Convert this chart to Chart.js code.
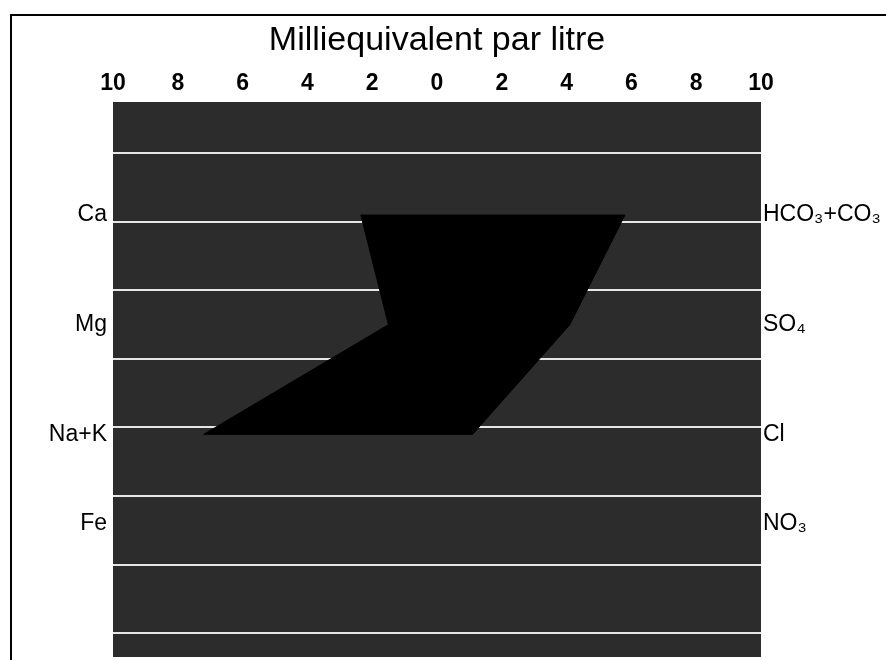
<!DOCTYPE html>
<html>
<head>
<meta charset="utf-8"/>
<script src="https://cdn.jsdelivr.net/npm/chart.js@4.4.1/dist/chart.umd.min.js"></script>
<style>
	body { margin: 0; background: #fff; }
	#wrap { position: relative; width: 886px; height: 660px; overflow: hidden; }
	#frame { position: absolute; left: 10px; top: 14px; width: 900px; height: 700px; border: 2px solid #000; pointer-events: none; }
</style>
</head>
<body>
<div id="wrap">
	<canvas id="chart" width="886" height="660"></canvas>
	<div id="frame"></div>
</div>
<script>
// Stiff diagram : cations a gauche, anions a droite (meq/l)
var cations = ['Ca', 'Mg', 'Na+K', 'Fe'];
var anions = ['HCO₃+CO₃', 'SO₄', 'Cl', 'NO₃'];
var cationVals = [2.35, 1.5, 7.2, null];
var anionVals = [5.8, 4.1, 1.1, null];
var rowPos = [1.9, 3.5, 5.1, 6.4];
var xTicks = [-10, -8, -6, -4, -2, 0, 2, 4, 6, 8, 10];
var gridRows = [1, 2, 3, 4, 5, 6, 7, 8];
var yMin = 0.25, yMax = 8.35;

// polygone : cations de haut en bas, puis anions de bas en haut
var pts = [];
for (var i = 0; i < cations.length; i++) {
	if (cationVals[i] != null) pts.push({x: -cationVals[i], y: rowPos[i]});
}
for (var j = anions.length - 1; j >= 0; j--) {
	if (anionVals[j] != null) pts.push({x: anionVals[j], y: rowPos[j]});
}
pts.push(pts[0]);

function setTicks(list) {
	return function(scale) {
		scale.ticks = list.map(function(v) { return {value: v}; });
	};
}

function fixWidth(w) {
	return function(s) {
		s.width = w;
		s.paddingTop = 0;
		s.paddingBottom = 0;
	};
}

var plotBg = {
	id: 'plotBg',
	beforeDraw: function(c) {
		var a = c.chartArea, ctx = c.ctx;
		ctx.save();
		ctx.fillStyle = '#2c2c2c';
		ctx.fillRect(a.left, a.top, a.right - a.left, a.bottom - a.top);
		ctx.restore();
	}
};

var ctx = document.getElementById('chart').getContext('2d');
new Chart(ctx, {
	type: 'scatter',
	data: {
		datasets: [{
			data: pts,
			showLine: true,
			fill: 'shape',
			backgroundColor: '#000',
			borderColor: '#000',
			borderWidth: 1,
			pointRadius: 0,
			xAxisID: 'x',
			yAxisID: 'yl'
		}]
	},
	options: {
		responsive: false,
		animation: false,
		layout: { padding: { top: 0, left: 0, right: 0, bottom: 3 } },
		plugins: { legend: { display: false }, tooltip: { enabled: false } },
		scales: {
			x: {
				type: 'linear', position: 'top', min: -10, max: 10,
				afterBuildTicks: setTicks(xTicks),
				afterFit: function(s) { s.height = 102; },
				grid: { display: false, drawTicks: false },
				border: { display: false },
				ticks: {
					color: '#000', padding: 5,
					font: { family: 'Liberation Sans', size: 23, weight: 'bold' },
					callback: function(v) { return Math.abs(v); }
				},
				title: {
					display: true, text: 'Milliequivalent par litre', color: '#000',
					font: { family: 'Liberation Sans', size: 34 },
					padding: { top: 20, bottom: 0 }
				}
			},
			yl: {
				type: 'linear', position: 'left', min: yMin, max: yMax, reverse: true,
				afterBuildTicks: setTicks(rowPos),
				afterFit: fixWidth(113),
				grid: { display: false, drawTicks: false },
				border: { display: false },
				ticks: {
					color: '#000', padding: 6,
					font: { family: 'Liberation Sans', size: 23 },
					callback: function(v, i) { return cations[i]; }
				}
			},
			yg: {
				type: 'linear', position: 'left', min: yMin, max: yMax, reverse: true,
				afterBuildTicks: setTicks(gridRows),
				afterFit: fixWidth(0),
				grid: { color: '#e6e6e6', lineWidth: 2, drawTicks: false },
				border: { display: false },
				ticks: { display: false }
			},
			yr: {
				type: 'linear', position: 'right', min: yMin, max: yMax, reverse: true,
				afterBuildTicks: setTicks(rowPos),
				afterFit: fixWidth(125),
				grid: { display: false, drawTicks: false },
				border: { display: false },
				ticks: {
					color: '#000', padding: 2,
					font: { family: 'Liberation Sans', size: 23 },
					callback: function(v, i) { return anions[i]; }
				}
			}
		}
	},
	plugins: [plotBg]
});
</script>
</body>
</html>
